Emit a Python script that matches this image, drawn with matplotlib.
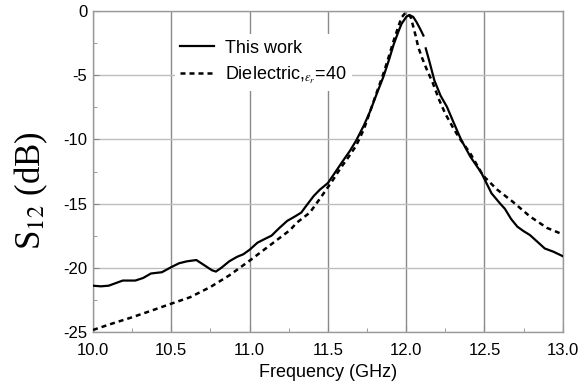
import numpy as np
import matplotlib
matplotlib.use('Agg')
from matplotlib import pyplot as plt
from matplotlib.ticker import MultipleLocator

plt.rcParams['font.family'] = ['Liberation Sans', 'DejaVu Sans']
plt.rcParams['mathtext.fontset'] = 'stix'
plt.rcParams['axes.unicode_minus'] = False

# "This work" (solid) -- NaN marks the small break just after the peak
work_f = [10.0, 10.05, 10.1, 10.19, 10.27, 10.32, 10.37, 10.44, 10.5, 10.55,
          10.6, 10.66, 10.71, 10.76, 10.785, 10.82, 10.87, 10.92, 10.96, 11.0,
          11.05, 11.09, 11.14, 11.19, 11.24, 11.29, 11.33, 11.36, 11.41, 11.45, 11.5,
          11.55, 11.6, 11.64, 11.68, 11.73, 11.77, 11.81, 11.855, 11.89, 11.92,
          11.95, 11.97, 12.0, 12.02, 12.045, 12.066, 12.09, 12.11, 12.12,
          12.125, 12.15, 12.18, 12.22, 12.26, 12.3, 12.35, 12.41, 12.48, 12.545,
          12.6, 12.63, 12.67, 12.71, 12.75, 12.79, 12.84, 12.885, 12.94, 13.0]
work_db = [-21.4, -21.45, -21.4, -21.0, -21.0, -20.8, -20.45, -20.35, -19.95, -19.65,
           -19.5, -19.4, -19.8, -20.2, -20.3, -20.0, -19.5, -19.15, -18.95, -18.6,
           -18.05, -17.8, -17.5, -16.9, -16.35, -16.0, -15.7, -15.2, -14.4, -13.9, -13.4,
           -12.5, -11.6, -10.9, -10.1, -8.9, -7.8, -6.5, -5.1, -3.8, -2.6,
           -1.6, -1.0, -0.45, -0.3, -0.45, -0.85, -1.4, -1.9, np.nan,
           -2.9, -4.0, -5.4, -6.6, -7.45, -8.6, -10.0, -11.35, -12.6, -14.2,
           -15.0, -15.4, -16.2, -16.8, -17.15, -17.45, -18.0, -18.5, -18.75, -19.1]

# Dielectric, eps_r = 40 (dashed)
diel_f = [10.0, 10.11, 10.24, 10.36, 10.5, 10.62, 10.75, 10.87, 11.0, 11.13,
          11.26, 11.3, 11.385, 11.45, 11.49, 11.53, 11.58, 11.63, 11.68, 11.73,
          11.77, 11.81, 11.855, 11.89, 11.92, 11.95, 11.97, 11.99, 12.01, 12.03,
          12.045, 12.06, 12.077, 12.1, 12.13, 12.17, 12.21, 12.25, 12.3, 12.34,
          12.41, 12.49, 12.58, 12.68, 12.79, 12.9, 12.98, 13.0]
diel_db = [-24.85, -24.4, -23.9, -23.4, -22.8, -22.3, -21.5, -20.6, -19.45, -18.25,
           -17.05, -16.5, -15.7, -14.6, -13.9, -13.2, -12.25, -11.4, -10.5, -9.2,
           -7.8, -6.4, -4.85, -3.5, -2.3, -1.2, -0.5, -0.2, -0.15, -0.5,
           -1.2, -1.9, -2.8, -3.6, -4.5, -5.6, -6.9, -8.0, -9.1, -9.9,
           -11.1, -12.8, -13.9, -14.85, -16.0, -16.9, -17.3, -17.35]

xticks = [10.0, 10.5, 11.0, 11.5, 12.0, 12.5, 13.0]
xticklabels = ['10.0', '10.5', '11.0', '11.5', '12.0', '12.5', '13.0']

fig = plt.figure(figsize=(5.85, 3.85), dpi=100)
ax = fig.add_axes([0.159, 0.138, 0.803, 0.833])

ax.plot(work_f, work_db, color='black', lw=1.6, label='This work', zorder=3)
ax.plot(diel_f, diel_db, color='black', lw=1.8, ls=(0, (2.0, 1.6)),
        label=r'Dielectric,$_{\varepsilon_r}$=40', zorder=3)

ax.set_xlim(10.0, 13.0)
ax.set_ylim(-25, 0)
ax.set_xticks(xticks)
ax.set_xticklabels(xticklabels)
ax.xaxis.set_minor_locator(MultipleLocator(0.25))
ax.yaxis.set_major_locator(MultipleLocator(5))
ax.yaxis.set_minor_locator(MultipleLocator(2.5))

ax.grid(axis='x', which='major', color='#8a8a8a', lw=1.0)
ax.grid(axis='y', which='major', color='#bdbdbd', lw=1.0)
ax.set_axisbelow(True)

for s in ax.spines.values():
    s.set_color('#9a9a9a')
    s.set_linewidth(1.0)

ax.tick_params(which='both', direction='in', colors='#888888', labelcolor='black',
               top=False, right=False)
ax.tick_params(which='major', length=4)
ax.tick_params(which='minor', length=3)
ax.tick_params(axis='x', labelsize=12, pad=8)
ax.tick_params(axis='y', labelsize=12, pad=4)

ax.set_xlabel('Frequency (GHz)', fontsize=13, labelpad=4)
ax.set_ylabel(r'S$_{12}$ (dB)', fontsize=25, family='Liberation Serif')
ax.yaxis.set_label_coords(-0.092, 0.44)

leg = ax.legend(loc='upper left', bbox_to_anchor=(0.174, 0.928), fontsize=13,
                frameon=True, framealpha=1, edgecolor='none', fancybox=False,
                handlelength=1.9, handletextpad=0.6, labelspacing=0.45,
                borderpad=0.3, borderaxespad=0)

fig.savefig('out.png', dpi=100)
